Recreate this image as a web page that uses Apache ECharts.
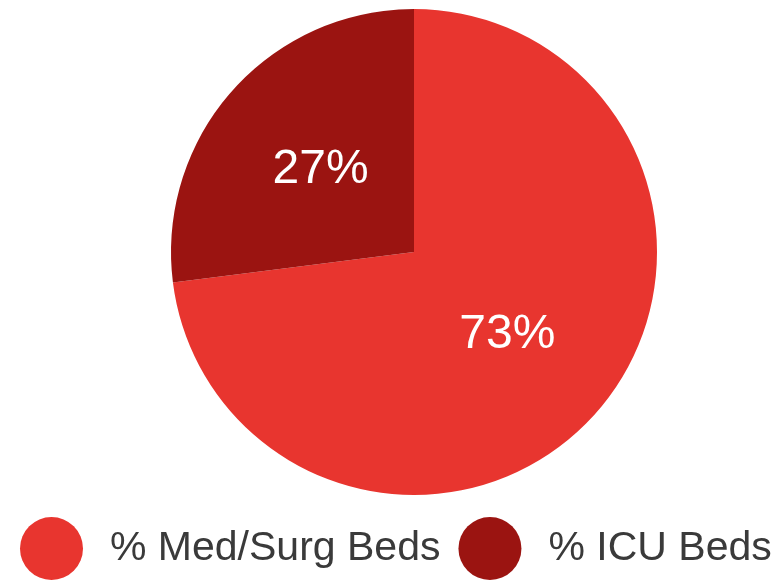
<!DOCTYPE html>
<html>
<head>
<meta charset="utf-8">
<script src="https://cdn.jsdelivr.net/npm/echarts@6/dist/echarts.min.js"></script>
<style>
  html, body { margin: 0; padding: 0; background: #fff; }
  #main { width: 779px; height: 580px; }
</style>
</head>
<body>
<div id="main"></div>
<script>
var categories = ['% Med/Surg Beds', '% ICU Beds'];
var values = [73, 27];
var colors = ['#e8352f', '#9b1411'];

var myChart = echarts.init(document.getElementById('main'));

var pieData = categories.map(function (name, i) {
    return { name: name, value: values[i], itemStyle: { color: colors[i] } };
});

var option = {
    animation: false,
    legend: {
        data: categories,
        icon: 'circle',
        left: 20,
        top: 517,
        width: 900,
        padding: 0,
        itemWidth: 63,
        itemHeight: 63,
        itemGap: 18,
        textStyle: {
            fontFamily: 'Liberation Sans',
            fontSize: 41,
            color: '#3a3a3a',
            padding: [0, 0, 0, 22]
        }
    },
    series: [{
        name: 'Beds',
        type: 'pie',
        center: [414, 252],
        radius: 243,
        startAngle: 90,
        clockwise: true,
        label: {
            position: 'inside',
            formatter: '{d}%',
            color: '#fff',
            fontFamily: 'Liberation Sans',
            fontSize: 48
        },
        labelLine: { show: false },
        data: pieData
    }]
};
myChart.setOption(option);
</script>
</body>
</html>
